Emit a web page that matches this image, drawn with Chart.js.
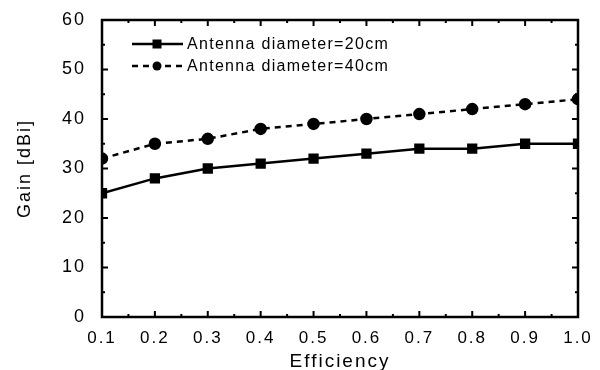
<!DOCTYPE html>
<html lang="en">
<head>
  <meta charset="UTF-8">
  <title>Gain vs Efficiency</title>
  <script src="https://cdn.jsdelivr.net/npm/chart.js"></script>
  <style>
    body { margin: 0; background: #fff; }
    #wrap { width: 600px; height: 370px; }
  </style>
</head>
<body>
<div id="wrap"><canvas id="gainChart" width="600" height="370"></canvas></div>
<script>
  // values
  const efficiency = [0.1, 0.2, 0.3, 0.4, 0.5, 0.6, 0.7, 0.8, 0.9, 1.0];
  const gain20cm = [25, 28, 30, 31, 32, 33, 34, 34, 35, 35];
  const gain40cm = [32, 35, 36, 38, 39, 40, 41, 42, 43, 44];
  const seriesLabels = ['Antenna diameter=20cm', 'Antenna diameter=40cm'];
  const xTicks = [0.1, 0.2, 0.3, 0.4, 0.5, 0.6, 0.7, 0.8, 0.9, 1.0];
  const yTicks = [0, 10, 20, 30, 40, 50, 60];

  const FONT = "'Liberation Sans', Arial, sans-serif";

  // letter spacing like the scanned figure
  const spacing = {
    id: 'spacing',
    beforeUpdate(chart) { chart.ctx.letterSpacing = '2px'; },
    beforeDraw(chart) { chart.ctx.letterSpacing = '2px'; }
  };

  // frame with inward ticks on all four sides + inset legend
  const frame = {
    id: 'frame',
    afterDraw(chart) {
      const ctx = chart.ctx;
      const a = chart.chartArea;
      const xs = chart.scales.x, ys = chart.scales.y;
      ctx.save();
      ctx.strokeStyle = '#000';
      ctx.lineWidth = 2.5;
      ctx.strokeRect(a.left, a.top, a.right - a.left, a.bottom - a.top);
      ctx.lineWidth = 2;
      ctx.beginPath();
      xTicks.forEach((v, i) => {
        const px = xs.getPixelForValue(v);
        ctx.moveTo(px, a.bottom); ctx.lineTo(px, a.bottom - 6);
        ctx.moveTo(px, a.top); ctx.lineTo(px, a.top + 6);
        if (i < xTicks.length - 1) {
          const m = xs.getPixelForValue((v + xTicks[i + 1]) / 2);
          ctx.moveTo(m, a.bottom); ctx.lineTo(m, a.bottom - 3);
          ctx.moveTo(m, a.top); ctx.lineTo(m, a.top + 3);
        }
      });
      yTicks.forEach((v, i) => {
        const py = ys.getPixelForValue(v);
        ctx.moveTo(a.left, py); ctx.lineTo(a.left + 6, py);
        ctx.moveTo(a.right, py); ctx.lineTo(a.right - 6, py);
        if (i < yTicks.length - 1) {
          const m = ys.getPixelForValue((v + yTicks[i + 1]) / 2);
          ctx.moveTo(a.left, m); ctx.lineTo(a.left + 3, m);
          ctx.moveTo(a.right, m); ctx.lineTo(a.right - 3, m);
        }
      });
      ctx.stroke();

      // legend
      const lx = a.left + 30, ly = a.top + 24, gap = 22;
      chart.data.datasets.forEach((ds, i) => {
        const y = ly + i * gap;
        ctx.lineWidth = 2.5;
        ctx.setLineDash(ds.borderDash || []);
        ctx.beginPath();
        ctx.moveTo(lx, y); ctx.lineTo(lx + 51, y);
        ctx.stroke();
        ctx.setLineDash([]);
        ctx.fillStyle = '#000';
        const cx = lx + 25;
        if (ds.pointStyle === 'rect') {
          ctx.fillRect(cx - 4.5, y - 4.5, 9, 9);
        } else {
          ctx.beginPath(); ctx.arc(cx, y, 4.5, 0, Math.PI * 2); ctx.fill();
        }
        ctx.font = '16px ' + FONT;
        ctx.letterSpacing = '1.3px';
        ctx.textBaseline = 'middle';
        ctx.textAlign = 'left';
        ctx.fillText(ds.label, lx + 55, y + 1);
      });
      ctx.restore();
    }
  };

  new Chart(document.getElementById('gainChart'), {
    type: 'line',
    data: {
      datasets: [
        {
          label: seriesLabels[0],
          data: efficiency.map((x, i) => ({ x: x, y: gain20cm[i] })),
          borderColor: '#000', backgroundColor: '#000',
          borderWidth: 2.5, pointStyle: 'rect', pointRadius: 5.5,
          tension: 0
        },
        {
          label: seriesLabels[1],
          data: efficiency.map((x, i) => ({ x: x, y: gain40cm[i] })),
          borderColor: '#000', backgroundColor: '#000',
          borderWidth: 2.5, borderDash: [6, 5], pointStyle: 'circle', pointRadius: 5,
          tension: 0
        }
      ]
    },
    options: {
      responsive: false,
      animation: false,
      events: [],
      layout: { padding: { left: 0, top: 20, right: 22, bottom: 0 } },
      plugins: { legend: { display: false }, tooltip: { enabled: false } },
      scales: {
        x: {
          type: 'linear', min: 0.1, max: 1.0,
          afterBuildTicks: s => { s.ticks = xTicks.map(v => ({ value: v })); },
          afterFit: s => { s.height = 53; },
          grid: { display: false }, border: { display: false },
          ticks: { color: '#000', font: { family: FONT, size: 17 }, padding: 3, maxRotation: 0,
                   callback: v => v.toFixed(1) },
          title: { display: true, text: 'Efficiency', color: '#000',
                   font: { family: FONT, size: 19 }, padding: { top: 0, bottom: -3 } }
        },
        y: {
          min: 0, max: 60,
          afterBuildTicks: s => { s.ticks = yTicks.map(v => ({ value: v })); },
          afterFit: s => { s.width = 102; },
          grid: { display: false }, border: { display: false },
          ticks: { color: '#000', font: { family: FONT, size: 18 }, padding: 8 },
          title: { display: true, text: 'Gain [dBi]', color: '#000',
                   font: { family: FONT, size: 18 }, padding: { top: 14, bottom: 0 } }
        }
      }
    },
    plugins: [spacing, frame]
  });
</script>
</body>
</html>
